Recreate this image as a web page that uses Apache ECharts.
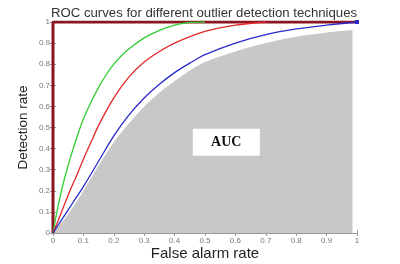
<!DOCTYPE html>
<html><head><meta charset="utf-8">
<script src="https://cdn.jsdelivr.net/npm/echarts@6/dist/echarts.min.js"></script>
<style>html,body{margin:0;padding:0;background:#fff}#c{width:400px;height:264px}</style>
</head><body><div id="c"></div>
<script>
var titleText = "ROC curves for different outlier detection techniques";
var xName = "False alarm rate";
var yName = "Detection rate";
var aucLabel = "AUC";
var aucPos = [0.57, 0.43];

var idealX = [0, 0, 1];
var idealY = [0, 1, 1];

var greenX = [0, 0.01, 0.02, 0.04, 0.06, 0.08, 0.1, 0.125, 0.15, 0.175, 0.2, 0.225, 0.25, 0.3, 0.35, 0.4, 0.45, 0.5];
var greenY = [0, 0.08, 0.15, 0.27, 0.37, 0.46, 0.54, 0.62, 0.69, 0.75, 0.80, 0.84, 0.873, 0.925, 0.96, 0.985, 0.998, 1];

var redX = [0, 0.02, 0.05, 0.08, 0.1, 0.125, 0.15, 0.2, 0.25, 0.3, 0.35, 0.4, 0.5, 0.6, 0.7];
var redY = [0, 0.07, 0.18, 0.28, 0.35, 0.43, 0.51, 0.64, 0.74, 0.81, 0.86, 0.9, 0.955, 0.985, 1.0];

var blueX = [0, 0.025, 0.05, 0.075, 0.1, 0.15, 0.2, 0.25, 0.3, 0.35, 0.4, 0.45, 0.5, 0.6, 0.7, 0.8, 0.9, 1];
var blueY = [0, 0.055, 0.11, 0.165, 0.22, 0.34, 0.46, 0.56, 0.64, 0.705, 0.76, 0.805, 0.845, 0.90, 0.94, 0.967, 0.985, 1.0];

var grayX = [0, 0.05, 0.1, 0.15, 0.2, 0.25, 0.3, 0.35, 0.4, 0.45, 0.5, 0.6, 0.7, 0.8, 0.9, 0.985];
var grayY = [0, 0.09, 0.2, 0.32, 0.43, 0.52, 0.6, 0.665, 0.72, 0.77, 0.81, 0.86, 0.9, 0.93, 0.95, 0.962];

function pairs(xs, ys) { return xs.map(function (x, i) { return [x, ys[i]]; }); }
function fmt(v) { return (v === 0 || v === 1) ? String(v) : v.toFixed(1); }

var blueData = pairs(blueX, blueY);
blueData[blueData.length - 1] = { value: blueData[blueData.length - 1], symbol: 'rect', symbolSize: 4 };

var chart = echarts.init(document.getElementById('c'), null, { renderer: 'canvas' });
var font = 'Arial, Liberation Sans, sans-serif';
var tickLabel = { fontSize: 8, color: '#777', fontFamily: font };
chart.setOption({
  animation: false,
  title: {
    text: titleText, left: 199, top: 2, textAlign: 'center',
    textStyle: { fontSize: 13.2, fontWeight: 'normal', color: '#333', fontFamily: font }
  },
  grid: { left: 53, right: 43, top: 22, bottom: 31, containLabel: false, outerBoundsMode: 'none' },
  xAxis: [{
    type: 'value', min: 0, max: 1, interval: 0.1,
    name: xName, nameLocation: 'middle', nameGap: 13, nameMoveOverlap: false,
    nameTextStyle: { fontSize: 15, color: '#222', fontFamily: font },
    axisLine: { lineStyle: { color: '#999', width: 1 } },
    axisTick: { inside: true, length: 3, lineStyle: { color: '#999' } },
    axisLabel: Object.assign({ formatter: fmt, margin: 4 }, tickLabel),
    splitLine: { show: false }
  }, {
    type: 'value', min: 0, max: 1, interval: 0.1, position: 'top',
    axisLine: { show: true, lineStyle: { color: '#999' } },
    axisTick: { inside: true, length: 3, lineStyle: { color: '#999' } },
    axisLabel: { show: false }, splitLine: { show: false }
  }],
  yAxis: [{
    type: 'value', min: 0, max: 1, interval: 0.1,
    name: yName, nameLocation: 'middle', nameGap: 23, nameMoveOverlap: false,
    nameTextStyle: { fontSize: 13.5, color: '#222', fontFamily: font },
    axisLine: { show: true, lineStyle: { color: '#999' } },
    axisTick: { show: true, inside: true, length: 3, lineStyle: { color: '#999' } },
    axisLabel: Object.assign({ formatter: fmt, margin: 3 }, tickLabel),
    splitLine: { show: false }
  }, {
    type: 'value', min: 0, max: 1, interval: 0.1, position: 'right',
    axisLine: { show: true, lineStyle: { color: '#999' } },
    axisTick: { show: true, inside: true, length: 3, lineStyle: { color: '#999' } },
    axisLabel: { show: false }, splitLine: { show: false }
  }],
  series: [
    {
      type: 'line', data: pairs(grayX, grayY), symbol: 'none', silent: true,
      smooth: 0.3,
      lineStyle: { width: 0 }, areaStyle: { color: '#c8c8c8', opacity: 1 },
      markPoint: {
        symbol: 'rect', symbolSize: [67, 27], silent: true,
        itemStyle: { color: '#fff' },
        label: { show: true, formatter: aucLabel, color: '#111', fontSize: 14, fontWeight: 'bold', fontFamily: 'Times New Roman, Liberation Serif, serif' },
        data: [{ coord: aucPos }]
      }
    },
    { type: 'line', data: pairs(idealX, idealY), symbol: 'none', lineStyle: { color: '#8b1520', width: 3 } },
    { type: 'line', data: pairs(greenX, greenY), symbol: 'none', smooth: 0.4, lineStyle: { color: '#33cc33', width: 1.3 } },
    { type: 'line', data: pairs(redX, redY), symbol: 'none', smooth: 0.3, lineStyle: { color: '#e02828', width: 1.3 } },
    { type: 'line', data: blueData, symbol: 'none', smooth: 0.3, itemStyle: { color: '#2a2acc' }, lineStyle: { color: '#2a2acc', width: 1.3 } }
  ]
});
</script></body></html>
